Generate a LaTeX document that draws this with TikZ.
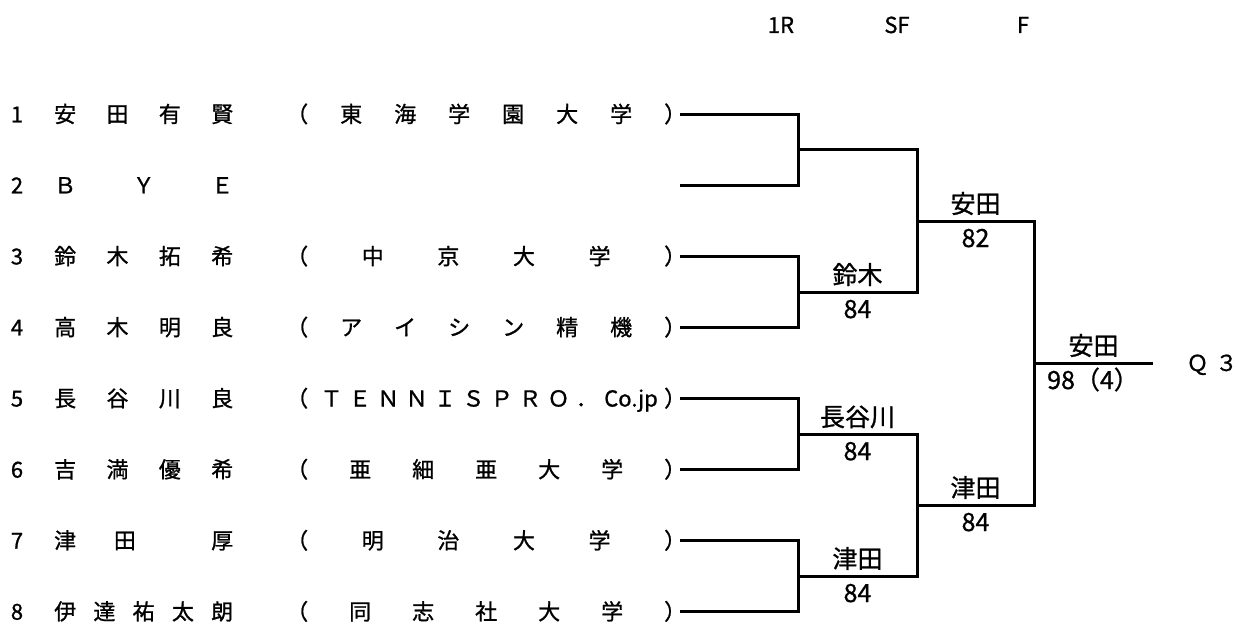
\documentclass[tikz,border=0pt]{standalone}
\usepackage{fontspec}
\setmainfont{Noto Sans CJK JP}[BoldFont=*,BoldFeatures={FakeBold=1}]
\begin{document}
\begin{tikzpicture}[x=1pt,y=-1pt,
  every node/.style={inner sep=0pt,anchor=base,font=\fontsize{22}{26}\selectfont\bfseries},
  bline/.style={line width=3pt,line join=miter},
  winner/.style={font=\fontsize{25}{28}\selectfont\bfseries},
  score/.style={font=\fontsize{25}{28}\selectfont\bfseries}]
  \useasboundingbox (0,0) rectangle (1237,623);
  % round headings
  \node (r1) at (781,33) {1R};
  \node (sf) at (897,33) {SF};
  \node (fi) at (1023,33) {F};
  % draw entries
  \foreach \n/\name/\club in {
    1/{安\hfill 田\hfill 有\hfill 賢}/{（\hfill 東\hfill 海\hfill 学\hfill 園\hfill 大\hfill 学\hfill ）},
    2/{Ｂ\hfill Ｙ\hfill Ｅ}/{},
    3/{鈴\hfill 木\hfill 拓\hfill 希}/{（\hfill 中\hfill 京\hfill 大\hfill 学\hfill ）},
    4/{高\hfill 木\hfill 明\hfill 良}/{（\hfill ア\hfill イ\hfill シ\hfill ン\hfill 精\hfill 機\hfill ）},
    5/{長\hfill 谷\hfill 川\hfill 良}/{（\kern6pt\hfill Ｔ\hfill Ｅ\hfill Ｎ\hfill Ｎ\hfill Ｉ\hfill Ｓ\hfill Ｐ\hfill Ｒ\hfill Ｏ\hfill ．\hfill Co.jp\hfill ）},
    6/{吉\hfill 満\hfill 優\hfill 希}/{（\hfill 亜\hfill 細\hfill 亜\hfill 大\hfill 学\hfill ）},
    7/{津\hfill 田\hfill\hfill 厚}/{（\hfill 明\hfill 治\hfill 大\hfill 学\hfill ）},
    8/{伊\hfill 達\hfill 祐\hfill 太\hfill 朗}/{（\hfill 同\hfill 志\hfill 社\hfill 大\hfill 学\hfill ）}} {
    \pgfmathsetmacro\y{114.3+(\n-1)*71.06}
    \node (no\n) at (17,\y+8) {\n};
    \node[anchor=base west] (pl\n) at (54,\y+8) {\hbox to 179pt{\name}};
    \node[anchor=base west] (cl\n) at (286,\y+8) {\hbox to 400pt{\club}};
    \coordinate (e\n) at (680,\y);
  }
  % joints
  \coordinate (j1) at (798,149.7);
  \coordinate (j2) at (798,292);
  \coordinate (j3) at (798,434.1);
  \coordinate (j4) at (798,576);
  \coordinate (k1) at (917,221);
  \coordinate (k2) at (917,505);
  \coordinate (fj) at (1034,363);
  \coordinate (qe) at (1153,363);
  % bracket lines
  \draw[bline] (e1) -| (j1) |- (e2);
  \draw[bline] (e3) -| (j2) |- (e4);
  \draw[bline] (e5) -| (j3) |- (e6);
  \draw[bline] (e7) -| (j4) |- (e8);
  \draw[bline] (j1) -| (k1) |- (j2);
  \draw[bline] (j3) -| (k2) |- (j4);
  \draw[bline] (k1) -| (fj) |- (k2);
  \draw[bline] (fj) -- (qe);
  % winners and scores
  \foreach \nm/\x/\y/\who/\pts in {w2/857.5/292/鈴木/84, w3/857.5/434.1/長谷川/84,
      w4/857.5/576/津田/84, v1/975.5/221/安田/82, v2/975.5/505/津田/84} {
    \node[winner] (\nm) at (\x,\y-8) {\who};
    \node[score] (\nm s) at (\x,\y+26) {\pts};
  }
  \node[winner] (fw) at (1093.5,355) {安田};
  \node[score,anchor=base west] (fs) at (1047,389) {98（4）};
  \node (q3) at (1212,371) {Ｑ\kern7pt ３};
\end{tikzpicture}
\end{document}
